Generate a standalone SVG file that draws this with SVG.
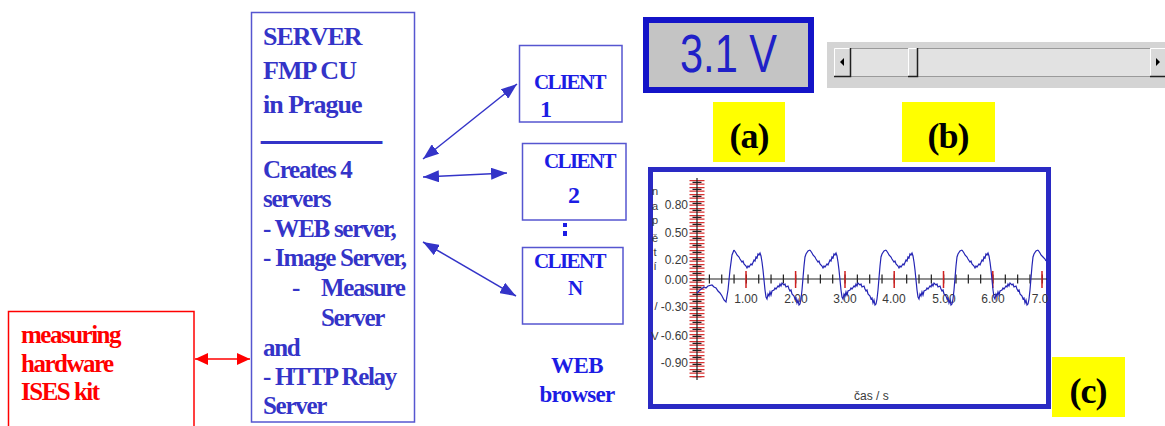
<svg xmlns="http://www.w3.org/2000/svg" width="1165" height="426" viewBox="0 0 1165 426">
  <style>
    .serif { font-family: "Liberation Serif", "Times New Roman", serif; font-weight: bold; }
    .srv { fill: #3434c8; font-size: 25px; letter-spacing: -1.3px; }
    .srvh { fill: #3434c8; font-size: 26px; letter-spacing: -1px; }
    .cli { fill: #1c1ce4; font-size: 21px; letter-spacing: -1.6px; }
    .num { fill: #1c1ce4; font-size: 24px; }
    .hw { fill: #ff0000; font-size: 25px; letter-spacing: -1.5px; }
    .box { fill: #ffffff; stroke: #5656d0; stroke-width: 1.5; }
    .tag { fill: #ffff00; }
    .tagt { fill: #000000; font-size: 36px; letter-spacing: -1px; text-anchor: middle; }
    .lbl { font-family: "Liberation Sans", Arial, sans-serif; font-size: 12px; fill: #3a3a3a; }
    .vl { font-family: "Liberation Sans", Arial, sans-serif; font-size: 11px; fill: #3a3a3a; text-anchor: middle; }
    .link { stroke: #3434c8; stroke-width: 1.5; fill: none; marker-start: url(#headB); marker-end: url(#headB); }
    .btn { fill: #d9d9d9; }
  </style>
  <defs>
    <marker id="headB" viewBox="0 0 16 12" refX="16" refY="6" markerWidth="16" markerHeight="12" markerUnits="userSpaceOnUse" orient="auto-start-reverse">
      <path d="M0,0 L16,6 L0,12 z" fill="#3434c8"/>
    </marker>
    <marker id="headR" viewBox="0 0 13 12" refX="13" refY="6" markerWidth="13" markerHeight="12" markerUnits="userSpaceOnUse" orient="auto-start-reverse">
      <path d="M0,0 L13,6 L0,12 z" fill="#ff0000"/>
    </marker>
    <!-- one period of the measured signal, x relative to its peak -->
    <path id="period" d="M0,250 L2,253 L3,255 L5,257 L6,259 L8,262 L9,261 L10,264 L12,266 L13,268 L14,266 L15,267 L17,264 L18,265 L20,260 L21,261 L22,257 L23,258 L24,254 L25,255 L26,253 L27,256 L28,262 L29,270 L30,280 L31,290 L32,297 L33,299 L34,294 L35,296 L36,292 L37,295 L38,291 L40,290 L41,288 L42,289 L44,286 L45,287 L46,284 L47,286 L48,283 L50,285 L51,284 L52,287 L54,286 L55,289 L56,291 L57,290 L58,294 L60,296 L61,299 L62,298 L63,303 L64,300 L65,305 L66,304 L67,299 L68,290 L69,278 L70,266 L71,257 L72,254 L74,251 L76,250" fill="none" stroke="#2424b4" stroke-width="1.2"/>
  </defs>

  <rect width="1165" height="426" fill="#ffffff"/>

  <!-- measuring hardware -->
  <g id="hardware">
    <rect x="8.5" y="311.5" width="185.5" height="130" fill="#ffffff" stroke="#ff0000" stroke-width="1.5"/>
    <text class="serif hw" x="21" y="343">measuring</text>
    <text class="serif hw" x="21" y="372">hardware</text>
    <text class="serif hw" x="21" y="400">ISES kit</text>
  </g>

  <!-- server -->
  <g id="server">
    <rect class="box" x="251.5" y="12.5" width="163" height="409.5"/>
    <text class="serif srvh" x="263" y="45">SERVER</text>
    <text class="serif srvh" x="263" y="79">FMP CU</text>
    <text class="serif srvh" x="263" y="113">in Prague</text>
    <text class="serif" x="263" y="141" font-size="12" fill="#3434c8" textLength="117" lengthAdjust="spacingAndGlyphs" stroke="#3434c8" stroke-width="2">_________</text>
    <text class="serif srv" x="263" y="178">Creates 4</text>
    <text class="serif srv" x="263" y="207">servers</text>
    <text class="serif srv" x="263" y="237">- WEB server,</text>
    <text class="serif srv" x="263" y="266">- Image Server,</text>
    <text class="serif srv" x="292" y="296">-</text>
    <text class="serif srv" x="321" y="296">Measure</text>
    <text class="serif srv" x="321" y="326">Server</text>
    <text class="serif srv" x="263" y="356">and</text>
    <text class="serif srv" x="263" y="385">- HTTP Relay</text>
    <text class="serif srv" x="263" y="414">Server</text>
  </g>

  <!-- clients -->
  <g id="client1">
    <rect class="box" x="519.5" y="45.5" width="102.5" height="76.5"/>
    <text class="serif cli" x="534" y="89">CLIENT</text>
    <text class="serif num" x="540" y="117">1</text>
  </g>
  <g id="client2">
    <rect class="box" x="522.5" y="143.5" width="103.5" height="76.5"/>
    <text class="serif cli" x="544" y="168">CLIENT</text>
    <text class="serif num" x="568" y="203">2</text>
  </g>
  <g id="dots">
    <rect x="563" y="223" width="4" height="4" fill="#1c1ce4"/>
    <rect x="563" y="231" width="4" height="5" fill="#1c1ce4"/>
  </g>
  <g id="clientN">
    <rect class="box" x="522.5" y="247.5" width="100.5" height="76.5"/>
    <text class="serif cli" x="534" y="268">CLIENT</text>
    <text class="serif cli" x="568" y="295">N</text>
  </g>
  <g id="browser">
    <text class="serif" x="577" y="373" fill="#1c1ce4" font-size="23" letter-spacing="-0.6" text-anchor="middle">WEB</text>
    <text class="serif" x="577" y="402" fill="#1c1ce4" font-size="23" letter-spacing="-0.7" text-anchor="middle">browser</text>
  </g>

  <!-- connectors -->
  <g id="connectors">
    <line class="link" x1="423" y1="159" x2="517" y2="84"/>
    <line class="link" x1="423" y1="177" x2="507" y2="173"/>
    <line class="link" x1="423" y1="242" x2="516" y2="296"/>
    <line x1="195" y1="359" x2="250" y2="359" stroke="#ff0000" stroke-width="1.5" marker-start="url(#headR)" marker-end="url(#headR)"/>
  </g>

  <!-- (a) voltage display -->
  <g id="display">
    <rect x="646" y="20" width="165" height="70" fill="#c4c4c4" stroke="#1414c8" stroke-width="6"/>
    <text x="680" y="72" font-family="Liberation Sans, Arial, sans-serif" font-size="54" fill="#2020c8" textLength="97" lengthAdjust="spacingAndGlyphs">3.1 V</text>
  </g>

  <!-- (b) slider -->
  <g id="slider">
    <rect x="827" y="42" width="338" height="46" fill="#d4d4d4"/>
    <rect x="834" y="48" width="331" height="28" fill="#e2e2e2"/>
    <line x1="834" y1="48.5" x2="1165" y2="48.5" stroke="#9a9a9a"/>
    <line x1="834" y1="76.5" x2="1165" y2="76.5" stroke="#9a9a9a"/>
    <rect class="btn" x="834" y="48" width="16" height="28"/>
    <path d="M834.5,76 V48.5 H850" stroke="#ffffff" fill="none"/>
    <path d="M834,76.5 H850.5 V48" stroke="#202020" fill="none" stroke-width="1.5"/>
    <path d="M844,58 L840,62 L844,66 z" fill="#000000"/>
    <rect class="btn" x="908" y="48" width="9" height="28"/>
    <path d="M908.5,76 V48.5 H917" stroke="#ffffff" fill="none"/>
    <path d="M908,76.5 H917.5 V48" stroke="#202020" fill="none" stroke-width="1.5"/>
    <rect class="btn" x="1150" y="48" width="15" height="28"/>
    <path d="M1150.5,76 V48.5 H1165" stroke="#ffffff" fill="none"/>
    <path d="M1150,76.5 H1165" stroke="#202020" fill="none" stroke-width="1.5"/>
    <path d="M1156,58 L1160,62 L1156,66 z" fill="#000000"/>
  </g>

  <!-- labels -->
  <g id="label-a">
    <rect class="tag" x="713" y="102" width="72" height="60"/>
    <text class="serif tagt" x="749" y="148">(a)</text>
  </g>
  <g id="label-b">
    <rect class="tag" x="902" y="102" width="93" height="60"/>
    <text class="serif tagt" x="948" y="148">(b)</text>
  </g>
  <g id="label-c">
    <rect class="tag" x="1052" y="357" width="73" height="60"/>
    <text class="serif tagt" x="1088" y="403">(c)</text>
  </g>

  <!-- (c) chart -->
  <g id="chart">
    <rect x="650.5" y="169.5" width="398" height="237" fill="#ffffff" stroke="#2a2ac4" stroke-width="5"/>
    <!-- y axis with ruler ticks -->
    <line x1="697" y1="180" x2="697" y2="378" stroke="#d83030" stroke-width="15" stroke-dasharray="1.2 2.3"/>
    <line x1="697" y1="181.75" x2="697" y2="378" stroke="#202020" stroke-width="9" stroke-dasharray="1.2 5.8"/>
    <line x1="697" y1="178" x2="697" y2="380" stroke="#202020" stroke-width="1.2"/>
    <!-- x axis -->
    <line x1="697" y1="279" x2="1047" y2="279" stroke="#202020" stroke-width="1.2"/>
    <line x1="708.8" y1="279" x2="1047" y2="279" stroke="#202020" stroke-width="9" stroke-dasharray="1.2 11.13"/>
    <g stroke="#d02020" stroke-width="1.5">
      <line x1="746" y1="271" x2="746" y2="288"/>
      <line x1="795.6" y1="271" x2="795.6" y2="288"/>
      <line x1="845" y1="271" x2="845" y2="288"/>
      <line x1="894.2" y1="271" x2="894.2" y2="288"/>
      <line x1="943.5" y1="271" x2="943.5" y2="288"/>
      <line x1="992.8" y1="271" x2="992.8" y2="288"/>
      <line x1="1042" y1="271" x2="1042" y2="288"/>
    </g>
    <!-- y labels -->
    <g class="lbl" text-anchor="end">
      <text x="688" y="209">0.80</text>
      <text x="688" y="237">0.50</text>
      <text x="688" y="264">0.20</text>
      <text x="688" y="284">0.00</text>
      <text x="688" y="311">-0.30</text>
      <text x="688" y="340">-0.60</text>
      <text x="688" y="367">-0.90</text>
    </g>
    <g>
      <text class="vl" x="655" y="195">n</text>
      <text class="vl" x="655" y="210">a</text>
      <text class="vl" x="655" y="224">p</text>
      <text class="vl" x="655" y="242">ě</text>
      <text class="vl" x="655" y="256">t</text>
      <text class="vl" x="655" y="270">í</text>
      <text class="vl" x="656" y="310">/</text>
      <text class="vl" x="655" y="340">V</text>
    </g>
    <!-- x labels -->
    <g class="lbl" text-anchor="middle">
      <text x="746" y="303">1.00</text>
      <text x="796" y="303">2.00</text>
      <text x="845" y="303">3.00</text>
      <text x="894" y="303">4.00</text>
      <text x="944" y="303">5.00</text>
      <text x="993" y="303">6.00</text>
      <text x="1040" y="303">7.0</text>
    </g>
    <text class="lbl" x="854" y="400">čas / s</text>
    <!-- signal trace -->
    <polyline points="697,293 700,290 704,287 706,288 708,286 712,285 714,287 716,288 718,291 720,293 722,296 724,300 726,302 728,290 730,270 732,255 734,250" fill="none" stroke="#2424b4" stroke-width="1.2"/>
    <use href="#period" x="734"/>
    <use href="#period" x="810"/>
    <use href="#period" x="886"/>
    <use href="#period" x="962"/>
    <polyline points="1038,250 1040,253 1041,255 1043,257 1045,259 1046,261" fill="none" stroke="#2424b4" stroke-width="1.2"/>
  </g>
</svg>
